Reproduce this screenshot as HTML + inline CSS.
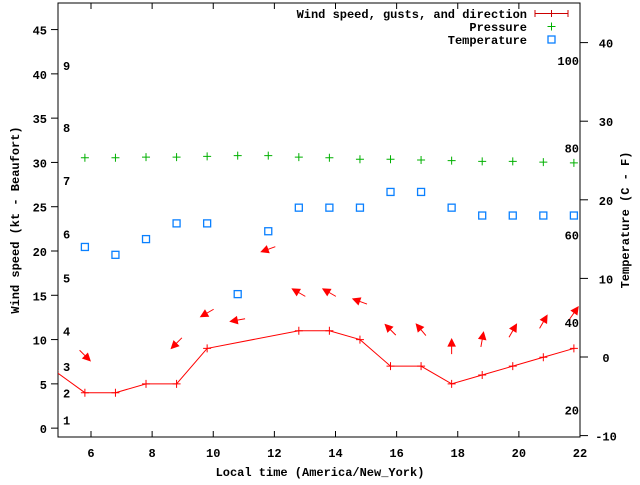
<!DOCTYPE html>
<html><head><meta charset="utf-8"><style>
body{margin:0;background:#fff}
svg text{font-family:"Liberation Mono",monospace;font-weight:bold;font-size:12px;fill:#000}
</style></head><body>
<svg id="chart" width="640" height="480" xmlns="http://www.w3.org/2000/svg"></svg>
<script>
const times=[5.8,6.8,7.8,8.8,9.8,10.8,11.8,12.8,13.8,14.8,15.8,16.8,17.8,18.8,19.8,20.8,21.8];
const windTimes=[4.8,5.8,6.8,7.8,8.8,9.8,12.8,13.8,14.8,15.8,16.8,17.8,18.8,19.8,20.8,21.8];
const windSpeed=[6.5,4,4,5,5,9,11,11,10,7,7,5,6,7,8,9];
const gustTimes=[5.8,8.8,9.8,10.8,11.8,12.8,13.8,14.8,15.8,16.8,17.8,18.8,19.8,20.8,21.8];
const gustSpeed=[8.2,9.6,13,12.2,20.2,15.3,15.3,14.3,11.1,11.1,9.2,10,11,12,13];
const windDir=[315,45,60,80,70,120,120,110,135,140,180,190,210,210,215];
const pressure=[1019.3,1019.3,1019.35,1019.35,1019.4,1019.45,1019.45,1019.35,1019.3,1019.2,1019.2,1019.15,1019.1,1019.05,1019.05,1019.0,1018.95];
const tempC=[14,13,15,17,17,8,16,19,19,19,21,21,19,18,18,18,18];
const xTicks=[6,8,10,12,14,16,18,20,22];
const yTicks=[0,5,10,15,20,25,30,35,40,45];
const tTicks=[-10,0,10,20,30,40];
const fLabels=[20,40,60,80,100];
const beaufort=[1,4,7,11,17,22,28,34,41];
const beaufortLabels=["1","2","3","4","5","6","7","8","9"];

const L=58,R=580,T=3,B=437;
const X=t=>91+(t-6)*(580-91)/16;
const Y=v=>B-(v+1)/(48-(-1))*(B-T);
const YT=c=>357-c*7.86;
const YF=f=>YT((f-32)*5/9);
const YP=p=>B-(p-1000)/30*(B-T);
const svg=document.getElementById('chart');
const NS='http://www.w3.org/2000/svg';
function el(tag,attrs,text){const e=document.createElementNS(NS,tag);for(const k in attrs)e.setAttribute(k,attrs[k]);if(text!==undefined)e.textContent=text;svg.appendChild(e);return e;}

const defs=document.createElementNS(NS,'defs');svg.appendChild(defs);
const cp=document.createElementNS(NS,'clipPath');cp.setAttribute('id','plotclip');defs.appendChild(cp);
const cr=document.createElementNS(NS,'rect');cr.setAttribute('x',L);cr.setAttribute('y',T);cr.setAttribute('width',R-L);cr.setAttribute('height',B-T);cp.appendChild(cr);

let e=el('rect',{x:L,y:T,width:R-L,height:B-T,fill:'none',stroke:'#000','stroke-width':1});



xTicks.forEach(t=>{
  let l=el('line',{x1:X(t),y1:B,x2:X(t),y2:B-6,stroke:'#000'});
  
  
  let l2=el('line',{x1:X(t),y1:T,x2:X(t),y2:T+6,stroke:'#000'});
  
  
  let tx=el('text',{x:X(t),y:B+20,'text-anchor':'middle'},String(t));
  
  
});
yTicks.forEach(v=>{
  let l=el('line',{x1:L-7,y1:Y(v),x2:L,y2:Y(v),stroke:'#000'});
  
  
  let tx=el('text',{x:47,y:Y(v)+5,'text-anchor':'end'},String(v));
  
  
});
tTicks.forEach(c=>{
  let l=el('line',{x1:R,y1:YT(c),x2:R+8,y2:YT(c),stroke:'#000'});
  
  
  let tx=el('text',{x:R+26,y:YT(c)+5,'text-anchor':'middle'},String(c));
  
  
});
fLabels.forEach(f=>{
  let tx=el('text',{x:R-1,y:YF(f)+5,'text-anchor':'end'},String(f));
  
  
});
beaufort.forEach((v,i)=>{
  let tx=el('text',{x:63,y:Y(v)+5},beaufortLabels[i]);
  
  
});

e=el('text',{x:320,y:476,'text-anchor':'middle'},'Local time (America/New_York)');


e=el('text',{x:0,y:0,'text-anchor':'middle',transform:'translate(19,220) rotate(-90)'},'Wind speed (kt - Beaufort)');


e=el('text',{x:0,y:0,'text-anchor':'middle',transform:'translate(629,220) rotate(-90)'},'Temperature (C - F)');



const g=document.createElementNS(NS,'g');g.setAttribute('clip-path','url(#plotclip)');svg.appendChild(g);
function gel(tag,attrs){const x=document.createElementNS(NS,tag);for(const k in attrs)x.setAttribute(k,attrs[k]);g.appendChild(x);return x;}

pressure.forEach((p,i)=>{
  const x=X(times[i]),y=YP(p);
  const m=gel('path',{d:`M${x-4},${y}h8M${x},${y-4}v8`,stroke:'#00b000','stroke-width':1});
  
  
});
tempC.forEach((c,i)=>{
  const m=gel('rect',{x:X(times[i])-3.5,y:YT(c)-3.5,width:7,height:7,fill:'none',stroke:'#0a80ff','stroke-width':1.3});
  
  
});
let d=windTimes.map((t,i)=>(i?'L':'M')+X(t)+','+Y(windSpeed[i])).join('');
e=gel('path',{d,fill:'none',stroke:'#f00','stroke-width':1});


windTimes.forEach((t,i)=>{
  const x=X(t),y=Y(windSpeed[i]);
  const m=gel('path',{d:`M${x-4},${y}h8M${x},${y-4}v8`,stroke:'#f00','stroke-width':1});
  
  
});
gustTimes.forEach((t,i)=>{
  const cx=X(t),cy=Y(gustSpeed[i]);
  const a=(windDir[i]+180)*Math.PI/180;
  const dx=Math.sin(a),dy=-Math.cos(a),len=15;
  const x1=cx-dx*len/2,y1=cy-dy*len/2,x2=cx+dx*len/2,y2=cy+dy*len/2;
  const px=-dy,py=dx;
  const hx=x2-dx*7,hy=y2-dy*7;
  const m=gel('path',{d:`M${x1},${y1}L${x2},${y2}M${x2},${y2}L${hx+px*3.5},${hy+py*3.5}L${hx-px*3.5},${hy-py*3.5}Z`,stroke:'#f00',fill:'#f00','stroke-width':1});
  
  
});

e=el('text',{x:527,y:18,'text-anchor':'end'},'Wind speed, gusts, and direction');


e=el('path',{d:'M535,13.5h33M535,10v7M568,10v7M551.5,10v7',stroke:'#c00','stroke-width':1});


e=el('text',{x:527,y:31,'text-anchor':'end'},'Pressure');


e=el('path',{d:'M547.5,26.5h8M551.5,22.5v8',stroke:'#00b000','stroke-width':1});


e=el('text',{x:527,y:44,'text-anchor':'end'},'Temperature');


e=el('rect',{x:548,y:36,width:7,height:7,fill:'none',stroke:'#0a80ff','stroke-width':1.3});


</script>
</body></html>
